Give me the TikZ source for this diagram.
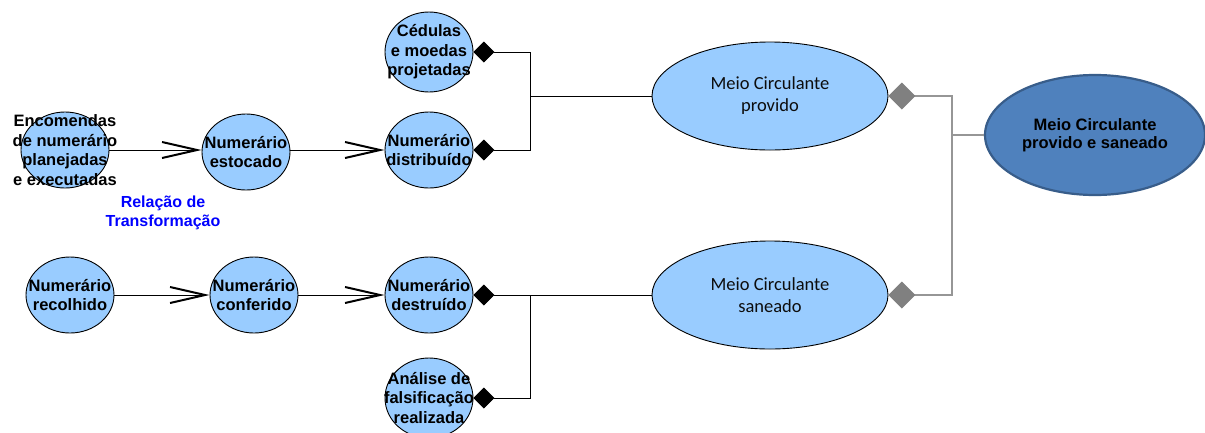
\documentclass[tikz,border=0pt]{standalone}
\usepackage{fontspec}
\setmainfont{Liberation Sans}
\newfontfamily\calib{Carlito}
\usetikzlibrary{shapes.geometric,arrows.meta}
\definecolor{lightfill}{RGB}{153,204,255}
\definecolor{darkfill}{RGB}{79,129,189}
\definecolor{darkedge}{RGB}{56,93,138}
\definecolor{linkgray}{RGB}{150,150,150}
\definecolor{diagray}{RGB}{128,128,128}
\tikzset{
  stage/.style={ellipse, draw=black, line width=0.9pt, fill=lightfill,
    minimum width=88pt, minimum height=76pt, inner sep=0pt},
  stagetext/.style={align=center, inner sep=0pt,
    font=\fontsize{16.5}{19.5}\selectfont\bfseries},
  goal/.style={ellipse, draw=black, line width=0.9pt, fill=lightfill,
    minimum width=236pt, minimum height=108pt, inner sep=0pt},
  goaltext/.style={align=center, inner sep=0pt, text=black!95,
    font=\calib\fontsize{18.5}{22}\selectfont},
  topgoal/.style={ellipse, draw=darkedge, line width=2.2pt, fill=darkfill,
    minimum width=220pt, minimum height=120pt, inner sep=0pt},
  topgoaltext/.style={align=center, inner sep=0pt,
    font=\fontsize{16.5}{18.5}\selectfont\bfseries},
  flow/.style={line width=1pt, -{Straight Barb[length=35pt,width=16pt,line width=2pt]}},
  part/.style={line width=1pt, {Diamond[length=21pt,width=21pt]}-},
  graypart/.style={draw=linkgray, line width=1.4pt,
    {Diamond[length=27pt,width=27pt,color=diagray,fill=diagray]}-},
}
\begin{document}
\begin{tikzpicture}[x=1pt,y=-1pt]
\useasboundingbox (0,0) rectangle (1205,432);

% transformation chain, upper row
\node[stage] (enc) at (65,150) {};
\node[stagetext] (enc-t) at (enc) {Encomendas\\de numerário\\planejadas\\e executadas};
\node[stage] (est) at (246,152) {};
\node[stagetext] (est-t) at (est) {Numerário\\estocado};
\node[stage, minimum height=80pt] (ced) at (429,52) {};
\node[stagetext] (ced-t) at (ced) {Cédulas\\e moedas\\projetadas};
\node[stage] (dis) at (429,150) {};
\node[stagetext] (dis-t) at (dis) {Numerário\\distribuído};

% transformation chain, lower row
\node[stage] (rec) at (70,295) {};
\node[stagetext] (rec-t) at (rec) {Numerário\\recolhido};
\node[stage] (con) at (254,295) {};
\node[stagetext] (con-t) at (con) {Numerário\\conferido};
\node[stage] (des) at (429,295) {};
\node[stagetext] (des-t) at (des) {Numerário\\destruído};
\node[stage, minimum height=80pt] (ana) at (429,398) {};
\node[stagetext] (ana-t) at (ana) {Análise de\\falsificação\\realizada};

% results
\node[goal] (prov) at (770,96) {};
\node[goaltext] (prov-t) at (prov) {Meio Circulante\\provido};
\node[goal] (san) at (770,295) {};
\node[goaltext] (san-t) at (san) {Meio Circulante\\saneado};
\node[topgoal] (top) at (1095,135) {};
\node[topgoaltext] (top-t) at (top) {Meio Circulante\\provido e saneado};

\node[align=center, text=blue, font=\fontsize{16}{19}\selectfont\bfseries] (rel)
  at (163,213) {Relação de\\Transformação};

% transformation arrows
\draw[flow] (enc.east) -- (est.west |- enc.east);
\draw[flow] (est.east |- dis.west) -- (dis.west);
\draw[flow] (rec.east) -- (con.west);
\draw[flow] (con.east) -- (des.west);

% composition into the results
\coordinate (j1) at (530,96);
\coordinate (j2) at (530,295);
\coordinate (j3) at (952,135);
\draw[part] (ced.east) -| (j1);
\draw[part] (dis.east) -| (j1);
\draw[line width=1pt] (j1) -- (prov.west);
\draw[part] (des.east) -- (san.west);
\draw[part] (ana.east) -| (j2);

\draw[graypart] (prov.east) -| (j3);
\draw[graypart] (san.east) -| (j3);
\draw[draw=linkgray, line width=1.4pt] (j3) -- (top.west);
\end{tikzpicture}
\end{document}
